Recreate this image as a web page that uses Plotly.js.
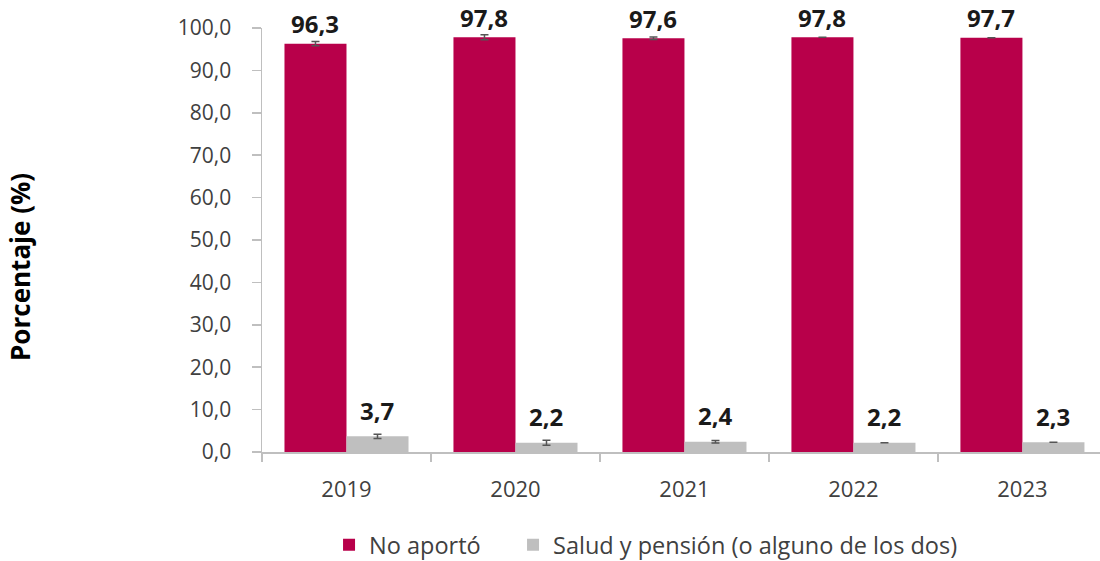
<!DOCTYPE html>
<html>
<head>
<meta charset="utf-8">
<script src="https://cdn.plot.ly/plotly-3.0.1.min.js"></script>
<style>html,body{margin:0;padding:0;background:#fff;}#chart{width:1100px;height:561px;}</style>
</head>
<body>
<div id="chart"></div>
<script>
const years = ['2019', '2020', '2021', '2022', '2023'];
const noAporto = [96.3, 97.8, 97.6, 97.8, 97.7];
const saludPension = [3.7, 2.2, 2.4, 2.2, 2.3];
const noAportoErr = [0.5, 0.6, 0.3, 0, 0];
const saludPensionErr = [0.5, 0.6, 0.3, 0, 0];
const seriesNames = ['No aportó', 'Salud y pensión (o alguno de los dos)'];
const yTicks = [0, 10, 20, 30, 40, 50, 60, 70, 80, 90, 100];

const fmt = v => v.toFixed(1).replace('.', ',');
const FONT = 'Open Sans, Noto Sans, sans-serif';
const RED = '#B8004A';
const GRAY = '#BFBFBF';

const errStyle = {type: 'data', visible: true, color: '#555555', thickness: 1.5, width: 4};

const traces = [
  {type: 'bar', name: seriesNames[0], x: years, y: noAporto, legendwidth: 139,
   marker: {color: RED}, error_y: Object.assign({array: noAportoErr}, errStyle), hoverinfo: 'none'},
  {type: 'bar', name: seriesNames[1], x: years, y: saludPension,
   marker: {color: GRAY}, error_y: Object.assign({array: saludPensionErr}, errStyle), hoverinfo: 'none'}
];

const annotations = [];
years.forEach((yr, i) => {
  annotations.push({x: i, y: noAporto[i], xref: 'x', yref: 'y', text: '<b>' + fmt(noAporto[i]) + '</b>',
    showarrow: false, xshift: -31, yshift: 20, yanchor: 'middle',
    font: {family: FONT, size: 24, color: '#1a1a1a'}});
  annotations.push({x: i, y: saludPension[i], xref: 'x', yref: 'y', text: '<b>' + fmt(saludPension[i]) + '</b>',
    showarrow: false, xshift: 31, yshift: 26, yanchor: 'middle',
    font: {family: FONT, size: 24, color: '#1a1a1a'}});
});
annotations.push({x: -0.289, y: 0.436, xref: 'paper', yref: 'paper', text: '<b>Porcentaje (%)</b>',
  textangle: -90, showarrow: false, xanchor: 'center', yanchor: 'middle',
  font: {family: FONT, size: 26, color: '#000000'}});

const layout = {
  width: 1100, height: 561,
  margin: {l: 262, r: 0, t: 28, b: 109, autoexpand: false},
  paper_bgcolor: '#ffffff', plot_bgcolor: '#ffffff',
  barmode: 'group', bargap: 0.266, bargroupgap: 0,
  font: {family: FONT, color: '#404040'},
  xaxis: {
    type: 'category', range: [-0.5, 4.459], fixedrange: true, automargin: false,
    showline: true, linecolor: '#BFBFBF', linewidth: 1.5,
    ticks: 'outside', tickson: 'boundaries', ticklen: 8, tickcolor: '#BFBFBF', tickwidth: 1.5,
    ticklabelstandoff: 17,
    tickfont: {family: FONT, size: 22, color: '#404040'},
    showgrid: false, zeroline: false
  },
  yaxis: {
    range: [0, 100], tickmode: 'array', tickvals: yTicks, ticktext: yTicks.map(fmt),
    automargin: false,
    showline: true, linecolor: '#BFBFBF', linewidth: 1.5,
    ticks: 'outside', ticklen: 9, tickcolor: '#BFBFBF', tickwidth: 1.5,
    ticklabelstandoff: 16,
    tickfont: {family: FONT, size: 21, color: '#404040'},
    showgrid: false, zeroline: false, fixedrange: true
  },
  showlegend: true,
  legend: {orientation: 'h', x: 0.08, xanchor: 'left', y: -0.219, yanchor: 'middle',
    font: {family: FONT, size: 23.5, color: '#404040'}, bgcolor: 'rgba(0,0,0,0)'},
  annotations: annotations
};

Plotly.newPlot('chart', traces, layout, {displayModeBar: false, staticPlot: true});
</script>
</body>
</html>
